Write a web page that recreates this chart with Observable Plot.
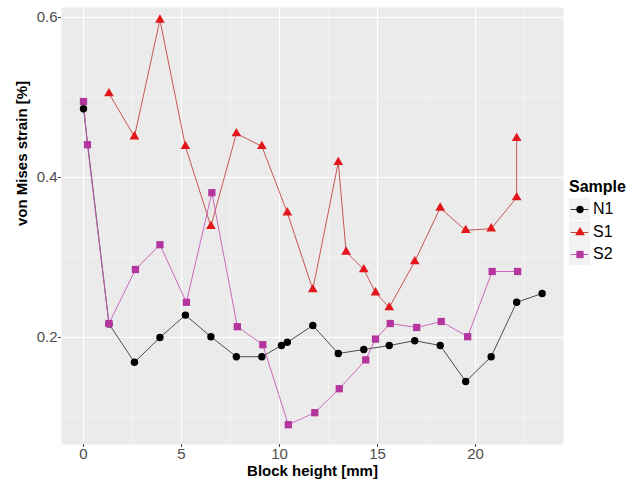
<!DOCTYPE html>
<html>
<head>
<meta charset="utf-8">
<script src="https://cdn.jsdelivr.net/npm/d3@7"></script>
<script src="https://cdn.jsdelivr.net/npm/@observablehq/plot@0.6"></script>
<style>
  body { margin: 0; background: white; font-family: "Liberation Sans", Arial, sans-serif; }
  #wrap { position: relative; width: 638px; height: 486px; }
  #legend { position: absolute; left: 569px; top: 176px; color: #000; }
  #legend .title { font-weight: bold; font-size: 16px; height: 22px; line-height: 22px; }
  #legend .item { display: flex; align-items: center; height: 22.5px; font-size: 16px; }
  #legend svg { display: block; margin-right: 3px; }
</style>
</head>
<body>
<div id="wrap"></div>
<script>
// ---- data ----
const samples = ["N1", "S1", "S2"];

const n1X = [0, 1.3, 2.6, 3.9, 5.2, 6.5, 7.8, 9.1, 10.1, 10.4, 11.7, 13.0, 14.3, 15.6, 16.9, 18.2, 19.5, 20.8, 22.1, 23.4];
const n1Y = [0.486, 0.217, 0.169, 0.200, 0.228, 0.201, 0.176, 0.176, 0.190, 0.194, 0.215, 0.180, 0.185, 0.190, 0.196, 0.190, 0.145, 0.176, 0.244, 0.255];

const s1X = [1.3, 2.6, 3.9, 5.2, 6.5, 7.8, 9.1, 10.4, 11.7, 13.0, 13.4, 14.3, 14.9, 15.6, 16.9, 18.2, 19.5, 20.8, 22.1, 22.1];
const s1Y = [0.505, 0.451, 0.597, 0.439, 0.339, 0.455, 0.439, 0.356, 0.260, 0.419, 0.307, 0.285, 0.256, 0.2375, 0.295, 0.362, 0.334, 0.336, 0.375, 0.449];

const s2X = [0, 0.2, 1.3, 2.65, 3.9, 5.25, 6.55, 7.85, 9.15, 10.45, 11.8, 13.05, 14.4, 14.9, 15.65, 17.0, 18.25, 19.6, 20.85, 22.15];
const s2Y = [0.495, 0.441, 0.2175, 0.285, 0.316, 0.244, 0.381, 0.2135, 0.191, 0.091, 0.106, 0.136, 0.172, 0.198, 0.2175, 0.2125, 0.220, 0.201, 0.2825, 0.2825];

const xTicks = [0, 5, 10, 15, 20];
const xMinor = [2.5, 7.5, 12.5, 17.5, 22.5];
const yTicks = [0.2, 0.4, 0.6];
const yMinor = [0.1, 0.3, 0.5];

// ---- build tables ----
const toRows = (name, xs, ys) => xs.map((x, i) => ({sample: name, x, y: ys[i]}));
const n1 = toRows("N1", n1X, n1Y);
const s1 = toRows("S1", s1X, s1Y);
const s2 = toRows("S2", s2X, s2Y);

const style = {
  N1: {line: "#3a3a3a", fill: "#000000", symbol: "circle", r: 3.7},
  S1: {line: "#c2473f", fill: "#e3161c", symbol: "triangle", r: 3.6},
  S2: {line: "#c65ab8", fill: "#b5359f", symbol: "square", r: 4.1}
};

const chart = Plot.plot({
  width: 638,
  height: 486,
  marginLeft: 61,
  marginRight: 75,
  marginTop: 7,
  marginBottom: 42,
  style: {fontFamily: "'Liberation Sans', Arial, sans-serif", fontSize: "15px", background: "white"},
  x: {domain: [-1.122, 24.49]},
  y: {domain: [0.06625, 0.6125]},
  marks: [
    Plot.frame({fill: "#ebebeb", stroke: "none"}),
    Plot.ruleX(xMinor, {stroke: "#f7f7f7", strokeWidth: 0.6}),
    Plot.ruleY(yMinor, {stroke: "#f7f7f7", strokeWidth: 0.6}),
    Plot.ruleX(xTicks, {stroke: "white", strokeWidth: 1.2}),
    Plot.ruleY(yTicks, {stroke: "white", strokeWidth: 1.2}),
    Plot.line(n1, {x: "x", y: "y", stroke: style.N1.line, strokeWidth: 0.9}),
    Plot.line(s1, {x: "x", y: "y", stroke: style.S1.line, strokeWidth: 0.9}),
    Plot.line(s2, {x: "x", y: "y", stroke: style.S2.line, strokeWidth: 0.9}),
    Plot.dot(n1, {x: "x", y: "y", fill: style.N1.fill, r: style.N1.r, symbol: "circle"}),
    Plot.dot(s1, {x: "x", y: "y", fill: style.S1.fill, r: style.S1.r, symbol: "triangle"}),
    Plot.dot(s2, {x: "x", y: "y", fill: style.S2.fill, r: style.S2.r, symbol: "square"}),
    Plot.axisX(xTicks, {tickSize: 3, tickPadding: 1, stroke: "#444", fill: "#4d4d4d", fontSize: 15, label: null}),
    Plot.axisY(yTicks, {tickSize: 3, tickPadding: 1, stroke: "#444", fill: "#4d4d4d", fontSize: 15, label: null, tickFormat: d => d.toFixed(1)}),
    Plot.text(["Block height [mm]"], {frameAnchor: "bottom", dy: 31, fontWeight: "bold", fontSize: 15, fill: "#000"}),
    Plot.text(["von Mises strain [%]"], {frameAnchor: "left", dx: -39, rotate: -90, fontWeight: "bold", fontSize: 15, fill: "#000"})
  ]
});

const wrap = document.getElementById("wrap");
wrap.appendChild(chart);

// ---- legend ----
const legend = document.createElement("div");
legend.id = "legend";
const title = document.createElement("div");
title.className = "title";
title.textContent = "Sample";
legend.appendChild(title);
for (const s of samples) {
  const st = style[s];
  const item = document.createElement("div");
  item.className = "item";
  const key = Plot.plot({
    width: 21, height: 22, margin: 0,
    x: {domain: [0, 1], axis: null}, y: {domain: [0, 1], axis: null},
    style: {background: "#f2f2f2"},
    marks: [
      Plot.ruleY([0.5], {x1: 0.08, x2: 0.92, stroke: st.line, strokeWidth: 1}),
      Plot.dot([0.5], {x: d => d, y: 0.5, fill: st.fill, r: st.r, symbol: st.symbol})
    ]
  });
  item.appendChild(key);
  const label = document.createElement("span");
  label.textContent = s;
  item.appendChild(label);
  legend.appendChild(item);
}
wrap.appendChild(legend);
</script>
</body>
</html>
